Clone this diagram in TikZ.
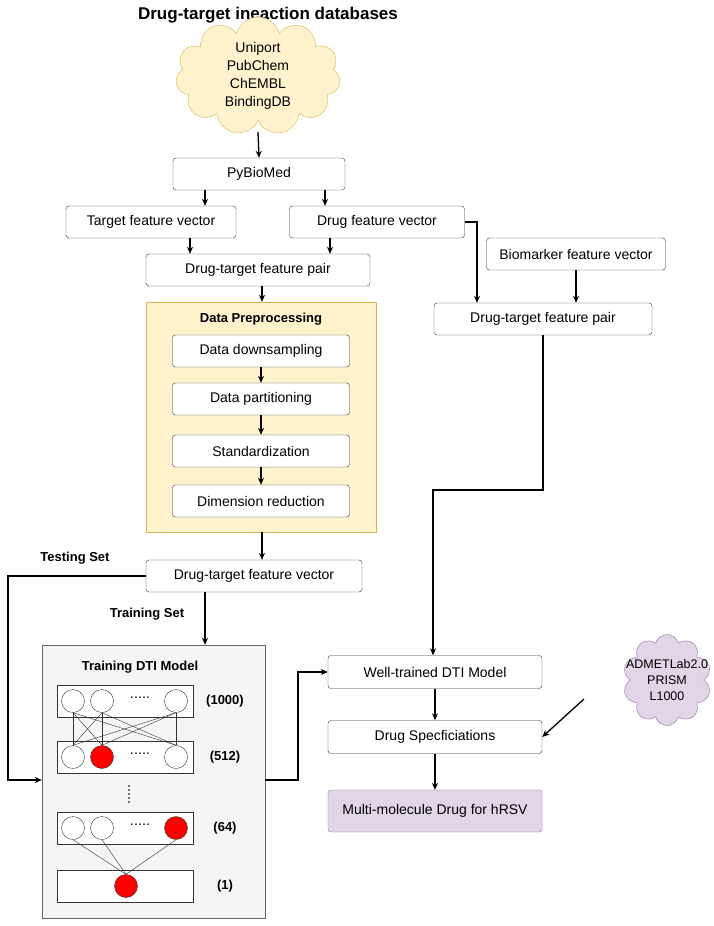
\documentclass[tikz,border=0pt]{standalone}
\usepackage{fontspec}
\setmainfont{Liberation Sans}
\usetikzlibrary{shapes.symbols,arrows.meta}
\definecolor{yfill}{HTML}{FFF2CC}\definecolor{ydraw}{HTML}{D6B656}
\definecolor{pfill}{HTML}{E1D5E7}\definecolor{pdraw}{HTML}{9673A6}
\definecolor{gfill}{HTML}{F5F5F5}\definecolor{gdraw}{HTML}{666666}
\begin{document}
\begin{tikzpicture}[x=1pt,y=-1pt,
 box/.style={draw=black!80,rounded corners=3pt,fill=white,font=\fontsize{14}{16}\selectfont,inner sep=0pt},
 arr/.style={-{Stealth[length=7pt,width=6pt]},line width=1.3pt},
 lbl/.style={font=\bfseries\fontsize{13}{15}\selectfont},
 neu/.style={circle,draw=black!80,minimum size=23pt,inner sep=0pt,fill=white},
 red/.style={neu,fill=red},
 lay/.style={draw=black!80,fill=white,inner sep=0pt}]
\useasboundingbox (0,0) rectangle (714,926);
\node[font=\bfseries\fontsize{17}{20}\selectfont] (title) at (268,15) {Drug-target ineaction databases};
\node[cloud,cloud puffs=11,aspect=1.2,draw=ydraw,fill=yfill,minimum width=165pt,minimum height=118pt,align=center,font=\fontsize{14}{18}\selectfont,inner sep=-12pt] (db) at (258,76) {Uniport\\PubChem\\ChEMBL\\BindingDB};
\node[box,minimum width=172pt,minimum height=32pt] (py) at (259,174) {PyBioMed};
\node[box,minimum width=170pt,minimum height=32pt] (tf) at (151,222) {Target feature vector};
\node[box,minimum width=175pt,minimum height=32pt] (df) at (377,222) {Drug feature vector};
\node[box,minimum width=224pt,minimum height=32pt] (pair) at (258,270) {Drug-target feature pair};
\node[draw=ydraw,fill=yfill,minimum width=230pt,minimum height=230pt,inner sep=0pt] (pre) at (261,417) {};
\node[lbl] (pret) at (261,319) {Data Preprocessing};
\node[box,minimum width=177pt,minimum height=32pt] (d1) at (261,351) {Data downsampling};
\node[box,minimum width=177pt,minimum height=32pt] (d2) at (261,399) {Data partitioning};
\node[box,minimum width=177pt,minimum height=32pt] (d3) at (261,451) {Standardization};
\node[box,minimum width=177pt,minimum height=32pt] (d4) at (261,501) {Dimension reduction};
\node[box,minimum width=216pt,minimum height=32pt] (fv) at (254,576) {Drug-target feature vector};
\node[box,minimum width=179pt,minimum height=32pt] (bio) at (576,254) {Biomarker feature vector};
\node[box,minimum width=218pt,minimum height=32pt] (pair2) at (543,319) {Drug-target feature pair};
\node[box,minimum width=214pt,minimum height=33pt] (well) at (435,672) {Well-trained DTI Model};
\node[box,minimum width=214pt,minimum height=33pt] (spec) at (435,737) {Drug Specficiations};
\node[box,draw=pdraw,fill=pfill,minimum width=214pt,minimum height=42pt] (multi) at (435,811) {Multi-molecule Drug for hRSV};
\node[cloud,cloud puffs=10,aspect=0.95,draw=pdraw,fill=pfill,minimum width=76pt,minimum height=80pt,align=center,font=\fontsize{12.5}{16}\selectfont,inner sep=-15pt] (adm) at (667,680) {ADMETLab2.0\\PRISM\\L1000};
% training box
\node[draw=gdraw,fill=gfill,minimum width=223pt,minimum height=273pt,inner sep=0pt] (train) at (153.5,781.5) {};
\node[lbl] (traint) at (140,667) {Training DTI Model};
\node[lay,minimum width=136pt,minimum height=32pt] (L1) at (125,701) {};
\node[lay,minimum width=136pt,minimum height=32pt] (L2) at (125,757) {};
\node[lay,minimum width=136pt,minimum height=32pt] (L3) at (125,828) {};
\node[lay,minimum width=136pt,minimum height=32pt] (L4) at (125,886) {};
\node[neu] (a1) at (73,701) {};\node[neu] (a2) at (102,701) {};\node[neu] (a3) at (176,701) {};
\node[neu] (b1) at (73,757) {};\node[red] (b2) at (102,757) {};\node[neu] (b3) at (176,757) {};
\node[neu] (c1) at (73,828) {};\node[neu] (c2) at (102,828) {};\node[red] (c3) at (176,828) {};
\node[red] (e1) at (126,886) {};
\foreach \y in {701,757,828} \node[font=\Large] at (140,\y-3) {.....};
\node[font=\Large] (vd) at (129,794) {\rotatebox{90}{.....}};
\foreach \i in {1,2,3} \foreach \j in {1,2,3} \draw[black!80] (a\i.south) -- (b\j.north);
\foreach \i in {1,2,3} \draw[black!80] (c\i.south) -- (e1.north);
\node[lbl] (n1) at (225,701) {(1000)};
\node[lbl] (n2) at (225,757) {(512)};
\node[lbl] (n3) at (225,828) {(64)};
\node[lbl] (n4) at (225,886) {(1)};
% arrows
\coordinate (dbo) at (258,132);
\draw[arr] (dbo) -- (py.north);
\draw[arr] (py.south -| 205,0) -- (tf.north -| 205,0);
\draw[arr] (py.south -| 325,0) -- (df.north -| 325,0);
\draw[arr] (tf.south -| 190,0) -- (pair.north -| 190,0);
\draw[arr] (df.south -| 330,0) -- (pair.north -| 330,0);
\draw[arr] (pair.south -| 262,0) -- (pre.north -| 262,0);
\draw[arr] (d1) -- (d2);\draw[arr] (d2) -- (d3);\draw[arr] (d3) -- (d4);
\draw[arr] (pre.south -| 262,0) -- (fv.north -| 262,0);
\draw[arr] (df.east) -- (477,222) -- (pair2.north -| 477,0);
\draw[arr] (bio) -- (pair2.north -| bio);
\draw[arr] (pair2.south) -- (543,490) -- (433,490) -- (well.north -| 433,0);
\draw[arr] (fv.west) -- (8,576) -- (8,780) -- (train.west |- 0,780);
\draw[arr] (fv.south -| 205,0) -- (train.north -| 205,0);
\draw[arr] (train.east |- 0,780) -- (298,780) -- (298,672) -- (well.west);
\draw[arr] (well) -- (spec);
\draw[arr] (spec) -- (multi);
\coordinate (admo) at (584,699);
\draw[arr] (admo) -- (spec.east);
\node[lbl] (ts) at (75,558) {Testing Set};
\node[lbl] (tr) at (147,614) {Training Set};
\end{tikzpicture}
\end{document}
